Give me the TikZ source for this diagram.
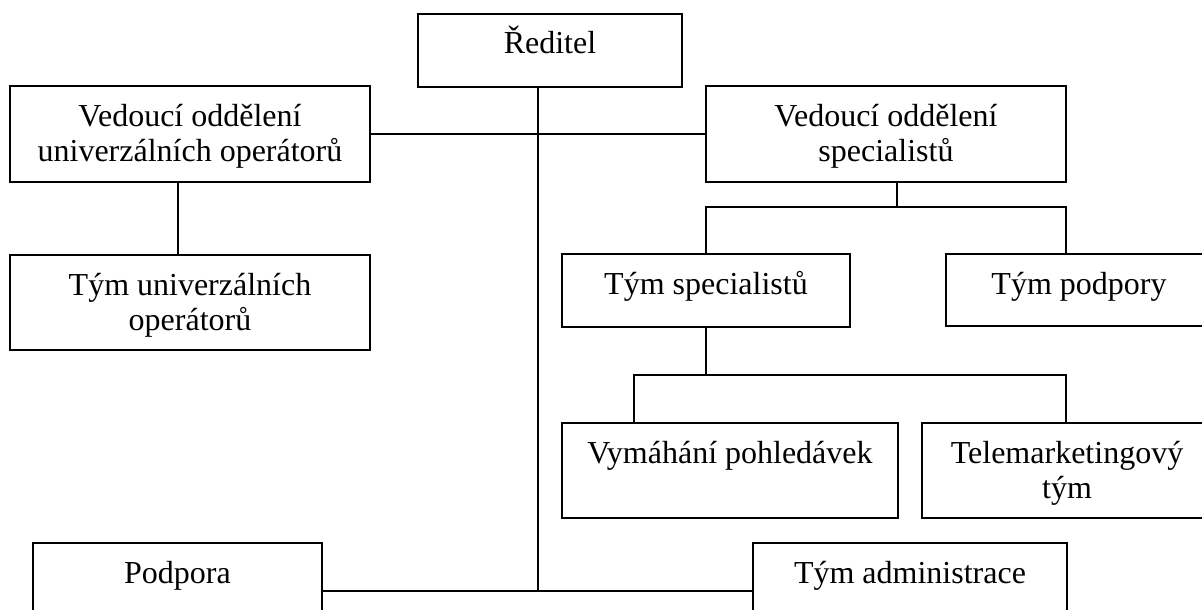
\documentclass[tikz,border=0pt]{standalone}
\usepackage{fontspec}
\setmainfont{Liberation Serif}
\usetikzlibrary{calc}
\newcommand{\bxt}[3]{\begin{minipage}[t][#2][t]{#1}\centering\rule{0pt}{40pt}#3\end{minipage}}
\begin{document}
\begin{tikzpicture}[x=1pt,y=-1pt,
  box/.style={draw, line width=1.5pt, inner sep=0pt, outer sep=0pt, anchor=north west,
              font=\fontsize{32}{35}\selectfont},
  conn/.style={line width=1.5pt},
  thickconn/.style={line width=2.2pt}]
\useasboundingbox (0,0) rectangle (1202,610);
\clip (0,0) rectangle (1202,610);

\node[box] (dir) at (418,14) {\bxt{264pt}{73pt}{Ředitel}};
\node[box] (vu)  at (10,86)  {\bxt{360pt}{96pt}{Vedoucí oddělení\\univerzálních operátorů}};
\node[box] (vs)  at (706,86) {\bxt{360pt}{96pt}{Vedoucí oddělení\\specialistů}};
\node[box] (tu)  at (10,255) {\bxt{360pt}{95pt}{Tým univerzálních\\operátorů}};
\node[box] (ts)  at (562,254) {\bxt{288pt}{73pt}{Tým specialistů}};
\node[box] (tp)  at (946,254) {\bxt{266pt}{72pt}{Tým podpory}};
\node[box] (vp)  at (562,423) {\bxt{336pt}{95pt}{Vymáhání pohledávek}};
\node[box] (tm)  at (922,423) {\bxt{290pt}{95pt}{Telemarketingový\\tým}};
\node[box] (pod) at (33,543)  {\bxt{289pt}{90pt}{Podpora}};
\node[box] (adm) at (753,543) {\bxt{314pt}{90pt}{Tým administrace}};

% junction coordinates
\coordinate (jmain) at (538,591);
\coordinate (juv) at (178,0);
\coordinate (jvs) at (897,207);
\coordinate (jtp) at (1066,207);
\coordinate (jts) at (706,375);
\coordinate (jvp) at (634,375);
\coordinate (jtm) at (1066,375);

% director trunk
\draw[conn] (dir.south -| jmain) -- (jmain);
\draw[conn] (vu.east) -- (vs.west);
\draw[thickconn] (pod.east |- jmain) -- (adm.west |- jmain);

% left branch
\draw[conn] (vu.south -| juv) -- (tu.north -| juv);

% specialists branch
\draw[conn] (vs.south -| jvs) -- (jvs);
\draw[conn] (ts.north) -- (ts.north |- jvs) -- (jtp) -- (tp.north -| jtp);

% team specialists branch
\draw[conn] (ts.south) -- (jts);
\draw[conn] (vp.north -| jvp) -- (jvp) -- (jtm) -- (tm.north -| jtm);
\end{tikzpicture}
\end{document}
